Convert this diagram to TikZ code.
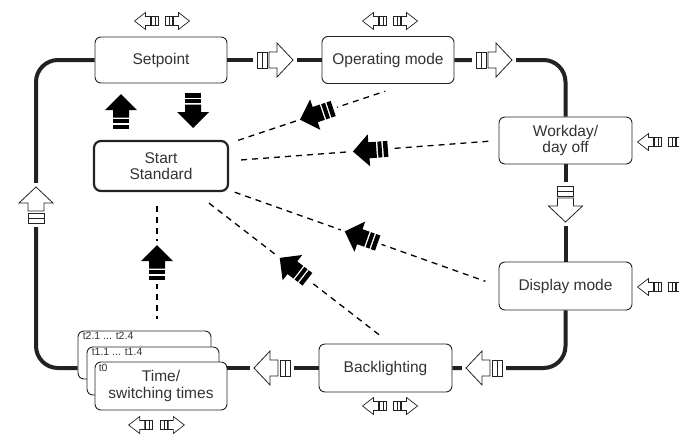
\documentclass[tikz,border=0pt]{standalone}
\usepackage{fontspec}
\setmainfont{Liberation Sans}
\usetikzlibrary{calc}
\definecolor{ink}{HTML}{222222}
\definecolor{txt}{HTML}{333333}
\tikzset{
  box/.style={draw=ink, line width=0.9pt, rounded corners=6pt, fill=white,
    minimum width=132pt, minimum height=47pt, inner sep=0pt, align=center,
    font=\fontsize{15.5}{16.5}\selectfont, text=txt},
  startbox/.style={box, line width=2.2pt, rounded corners=7pt},
  loopline/.style={line width=4pt, draw=ink},
  dashline/.style={line width=1.3pt, dash pattern=on 6pt off 5pt, draw=black},
  tlabel/.style={font=\fontsize{10.5}{10.5}\selectfont, inner sep=0pt, anchor=base west, text=txt},
  bighollow/.pic={
    \fill[white] (-4,-3) rectangle (40,3);
    \draw[fill=white, line width=0.8pt, draw=ink] (0,-8) rectangle (10,8);
    \draw[line width=0.8pt, draw=ink] (5,-8) -- (5,8);
    \draw[fill=white, line width=0.8pt, draw=ink, line join=miter]
      (12,-8) -- (20,-8) -- (20,-17) -- (36,0) -- (20,17) -- (20,8) -- (12,8) -- cycle;
  },
  solidarrow/.pic={
    \fill[white] (-4,-3) rectangle (39,3);
    \fill[black] (0,-8) rectangle (4.5,8);
    \fill[black] (6,-8) rectangle (10,8);
    \fill[black] (11.5,-8) -- (19,-8) -- (19,-16) -- (35,0) -- (19,16) -- (19,8) -- (11.5,8) -- cycle;
  },
  smallhollow/.pic={
    \draw[fill=white, line width=0.7pt, draw=ink] (0,-4.5) rectangle (7,4.5);
    \draw[line width=0.7pt, draw=ink] (3.5,-4.5) -- (3.5,4.5);
    \draw[fill=white, line width=0.7pt, draw=ink, line join=miter]
      (8,-4.5) -- (13,-4.5) -- (13,-8.5) -- (24,0) -- (13,8.5) -- (13,4.5) -- (8,4.5) -- cycle;
  },
  keypair/.pic={
    \pic[rotate=180] at (-3.5,0) {smallhollow};
    \pic at (3.5,0) {smallhollow};
  }
}
\begin{document}
\begin{tikzpicture}[x=1pt, y=-1pt]
\useasboundingbox (0,0) rectangle (679,434);
% nodes
\node[box, minimum height=46pt] (setp) at (161,60) {Setpoint};
\node[box] (opm) at (388,60) {Operating mode};
\node[box, minimum width=133pt] (wd) at (565.5,140.5) {Workday/\\day off};
\node[box, minimum width=133pt, minimum height=48pt] (disp) at (565.5,286) {Display mode};
\node[box, minimum width=133pt, minimum height=48pt] (bl) at (385.5,368) {Backlighting};
\node[startbox, minimum width=134pt, minimum height=50pt] (st) at (161,166) {Start\\Standard};
\node[box, minimum width=133pt, minimum height=48pt] (tback) at (144.5,355) {};
\node[tlabel] at ([xshift=5pt, yshift=-9pt]tback.north west) {t2.1 ... t2.4};
\node[box, minimum width=132pt, minimum height=48pt] (tmid) at (153,371) {};
\node[tlabel] at ([xshift=5pt, yshift=-9pt]tmid.north west) {t1.1 ... t1.4};
\node[box, minimum width=132pt, minimum height=48pt] (tfront) at (161,386) {Time/\\switching times};
\node[tlabel] at ([xshift=4pt, yshift=-10pt]tfront.north west) {t0};
% loop
\coordinate (lt) at (36,60);
\coordinate (lb) at (36,368);
\draw[loopline, rounded corners=22pt] (setp.west) -- (lt) -- (lb) -- (lb -| tback.west);
\draw[loopline] (setp.east) -- (opm.west);
\draw[loopline, rounded corners=22pt] (opm.east) -| (wd.north);
\draw[loopline] (wd.south) -- (disp.north);
\draw[loopline, rounded corners=22pt] (disp.south) |- (bl.east);
\draw[loopline] (bl.west) -- (bl.west -| tfront.east);
% dashed connectors
\coordinate (t1) at ([xshift=19pt]opm.south);
\coordinate (t4) at ([xshift=5pt]bl.north);
\draw[dashline, shorten <=9.5pt, shorten >=23pt] (st) -- (t1);
\draw[dashline, shorten <=12pt, shorten >=9pt] (st) -- (wd.west);
\draw[dashline, shorten <=6pt, shorten >=14pt] (st) -- (disp.west);
\draw[dashline, shorten <=18pt, shorten >=14pt] (st) -- (t4);
\draw[dashline, shorten <=14pt, shorten >=12pt] ([xshift=-4pt]st.south) -- ([xshift=-4pt]st.south |- tback.north);
% loop arrows
\pic at (257,60) {bighollow};
\pic at (476,60) {bighollow};
\pic[rotate=-90] at (565.5,186) {bighollow};
\pic[rotate=180] at (502,368) {bighollow};
\pic[rotate=180] at (290,368) {bighollow};
\pic[rotate=90] at (36,223) {bighollow};
% solid arrows
\pic[rotate=90] at (121,129) {solidarrow};
\pic[rotate=-90] at (193,93) {solidarrow};
\pic[rotate=90] at (157,280) {solidarrow};
\pic[rotate=198.54] at ($(st.center)!0.700!(t1)$) {solidarrow};
\pic[rotate=184.3] at ($(st.center)!0.672!(wd.west)$) {solidarrow};
\pic[rotate=160.45] at ($(st.center)!0.642!(disp.west)$) {solidarrow};
\pic[rotate=142.3] at ($(st.center)!0.638!(t4)$) {solidarrow};
% key pairs
\pic at (162,21) {keypair};
\pic at (390,21) {keypair};
\pic at (665,142) {keypair};
\pic at (665,287) {keypair};
\pic at (390,406) {keypair};
\pic[scale=1.1] at (156.5,425) {keypair};
\end{tikzpicture}
\end{document}
